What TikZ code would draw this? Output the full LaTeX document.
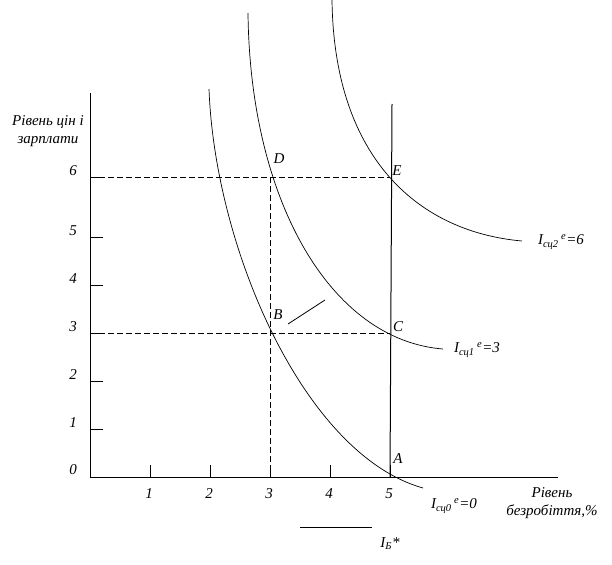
\documentclass[tikz,border=0pt]{standalone}
\usepackage{fontspec}
\setmainfont{Liberation Serif}
\begin{document}
\begin{tikzpicture}[x=1pt,y=-1pt,font=\fontsize{15}{18}\selectfont\itshape,line width=0.8pt]
        \tikzstyle{curve}=[line width=0.7pt]
        \tikzstyle{guide}=[line width=0.7pt,dash pattern=on 6pt off 3pt]
        \tikzstyle{lbl}=[inner sep=1pt]
        \useasboundingbox (0,0) rectangle (612,564);
        % axes
        \coordinate (o) at (90,477);
        \coordinate (ytop) at (90,93);
        \coordinate (xend) at (558,477);
        \draw[line width=1pt] (ytop) -- (o) -- (xend);
        \foreach \x/\t in {150/1,210/2,270/3,330/4,390/5}
          {\draw (\x,477) -- (\x,465);
           \node[lbl] (x\t) at (\x-1,494) {\t};}
        \foreach \y/\t in {429/1,381/2,333/3,285/4,237/5,177/6}
          \draw (90,\y) -- (103,\y);
        \foreach \y/\t in {470/0,423/1,375/2,327/3,279/4,231/5,171/6}
          \node[lbl] (y\t) at (73,\y) {\t};
        \node[align=center] (ylab) at (48,131) {Рівень цін і\\зарплати};
        \node[align=center] (xlab) at (552,503) {Рівень\\безробіття,\%};
        % points
        \coordinate (A) at (390,477);
        \coordinate (B) at (270,333);
        \coordinate (C) at (390,333);
        \coordinate (D) at (270,177);
        \coordinate (E) at (390,177);
        \coordinate (top) at (392,104);
        \draw[guide] (90,177) -- (E);
        \draw[guide] (90,333) -- (C);
        \draw[guide] (D) -- (270,477);
        \draw[line width=1pt] (A) -- (top);
        % curves
        \draw[curve] (209,89) .. controls (215,250) and (305,455) .. (423,488);
        \draw[curve] (248,13) .. controls (250,200) and (330,340) .. (443,349);
        \draw[curve] (332,0) .. controls (334,160) and (420,232) .. (522,241);
        \draw (288,324) -- (325,300);
        \draw (300,527) -- (372,527);
        % labels
        \node[lbl] (la) at (398,459) {A};
        \node[lbl] (lb) at (278,315) {B};
        \node[lbl] (lc) at (398,327) {C};
        \node[lbl] (ld) at (279,159) {D};
        \node[lbl] (le) at (397,171) {E};
        \node[lbl] (i0) at (454,506) {I\textsubscript{сц0}\,\textsuperscript{e}=0};
        \node[lbl] (i1) at (477,350) {I\textsubscript{сц1}\,\textsuperscript{e}=3};
        \node[lbl] (i2) at (561,242) {I\textsubscript{сц2}\,\textsuperscript{e}=6};
        \node[lbl] (ib) at (390,544) {I\textsubscript{Б}*};
      \end{tikzpicture}
\end{document}
